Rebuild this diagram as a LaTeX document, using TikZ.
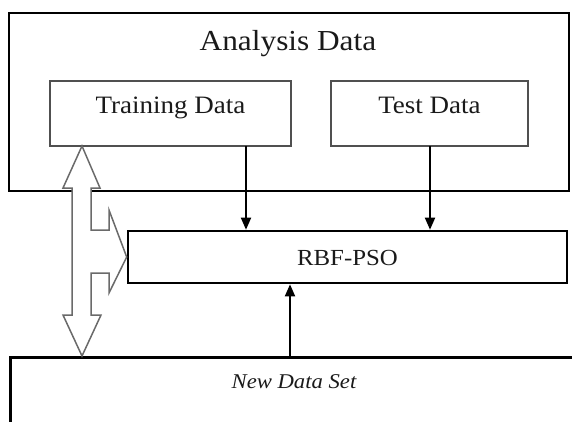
\documentclass[tikz,border=0pt]{standalone}
\usepackage{fontspec}
\setmainfont[FakeStretch=1.08]{Liberation Serif}
\usetikzlibrary{arrows.meta}
\definecolor{txt}{HTML}{1A1A1A}
\definecolor{thinline}{HTML}{505050}
\definecolor{hollowline}{HTML}{6A6A6A}
\tikzset{
  thickbox/.style={draw=black, line width=2.6pt, fill=white, inner sep=0pt},
  thinbox/.style={draw=thinline, line width=1.4pt, fill=white, inner sep=0pt,
                  text height=0pt, text depth=0pt, font=\fontsize{25}{25}\selectfont, text=txt},
  conn/.style={draw=black, line width=1.8pt, -{Triangle[length=12pt,width=10pt]}},
  hollow/.style={draw=hollowline, line width=1.5pt, fill=white, line join=miter},
  lbl/.style={anchor=base, inner sep=0pt, text=txt}
}
\begin{document}
\begin{tikzpicture}[x=1pt,y=-1pt]
\useasboundingbox (0,0) rectangle (572,421);
% outer analysis data box
\node[thickbox, minimum width=560pt, minimum height=178pt] (analysis) at (289,102) {};
\node[lbl, font=\fontsize{29}{29}\selectfont] (title) at (288,50) {Analysis Data};
% inner boxes
\node[thinbox, minimum width=241pt, minimum height=65pt] (train) at (170.5,113.5) {Training Data};
\node[thinbox, minimum width=197pt, minimum height=65pt] (test) at (429.5,113.5) {Test Data};
% RBF-PSO
\node[thickbox, minimum width=439pt, minimum height=52pt, text height=16pt, text depth=0pt,
      font=\fontsize{23}{23}\selectfont, text=txt] (rbf) at (347.5,257) {RBF-PSO};
% new data set box (runs off the page)
\node[thickbox, minimum width=620pt, minimum height=120pt, anchor=north west] (newdata) at (9,356) {};
\node[lbl, font=\fontsize{21}{21}\itshape\selectfont] (newlbl) at (294,388) {New Data Set};
% connectors
\coordinate (tr) at (246,146);
\coordinate (te) at (430,146);
\coordinate (up) at (290,356);
\draw[conn] (tr) -- (tr |- rbf.north);
\draw[conn] (te) -- (te |- rbf.north);
\draw[conn] (up) -- (up |- rbf.south);
% hollow three-way arrow
\draw[hollow] (82,146) -- (100,188) -- (91,188) -- (91,230) -- (109,230) -- (109,210)
  -- (rbf.west) -- (109,293) -- (109,273) -- (91,273) -- (91,315) -- (101,315)
  -- (82,356) -- (63,315) -- (72,315) -- (72,188) -- (63,188) -- cycle;
\end{tikzpicture}
\end{document}
